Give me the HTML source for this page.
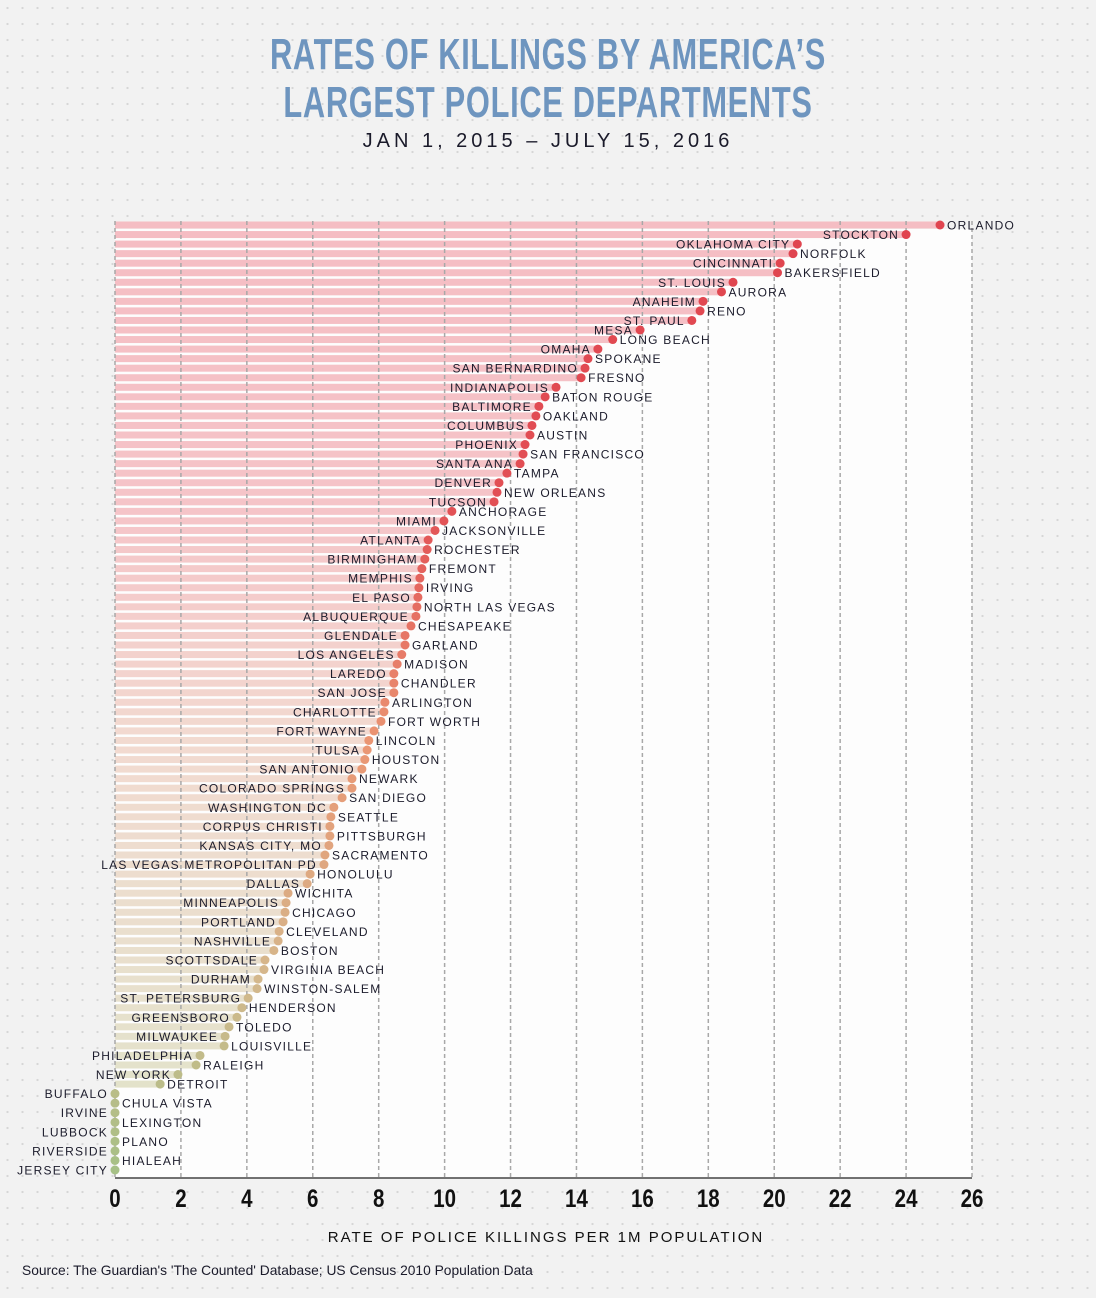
<!DOCTYPE html>
<html><head><meta charset="utf-8"><style>
body{margin:0;background:#f2f2f2;}
#wrap{position:relative;width:1096px;height:1298px;overflow:hidden;background-color:#f2f2f2;background-image:radial-gradient(circle,#d6d6d6 1px,transparent 1.3px);background-size:15px 16px;font-family:"Liberation Sans",sans-serif;}
.title{position:absolute;left:0;width:1096px;text-align:center;color:#6e95bf;font-weight:bold;font-size:44px;letter-spacing:1px;transform:scaleX(0.70);transform-origin:548px 0;}
</style></head><body>
<div id="wrap">
<div class="title" style="top:30px">RATES OF KILLINGS BY AMERICA’S</div>
<div class="title" style="top:78px">LARGEST POLICE DEPARTMENTS</div>
<div style="position:absolute;top:130px;left:0;width:1096px;text-align:center;font-size:20px;letter-spacing:4px;color:#1a1a2a">JAN 1, 2015 – JULY 15, 2016</div>
<svg id="chart" width="1096" height="1298" style="position:absolute;left:0;top:0"></svg>
<div style="position:absolute;top:1263px;left:22px;font-size:13.8px;color:#1a1a2a">Source: The Guardian's 'The Counted' Database; US Census 2010 Population Data</div>
</div>
<script>
const cities=["ORLANDO","STOCKTON","OKLAHOMA CITY","NORFOLK","CINCINNATI","BAKERSFIELD","ST. LOUIS","AURORA","ANAHEIM","RENO","ST. PAUL","MESA","LONG BEACH","OMAHA","SPOKANE","SAN BERNARDINO","FRESNO","INDIANAPOLIS","BATON ROUGE","BALTIMORE","OAKLAND","COLUMBUS","AUSTIN","PHOENIX","SAN FRANCISCO","SANTA ANA","TAMPA","DENVER","NEW ORLEANS","TUCSON","ANCHORAGE","MIAMI","JACKSONVILLE","ATLANTA","ROCHESTER","BIRMINGHAM","FREMONT","MEMPHIS","IRVING","EL PASO","NORTH LAS VEGAS","ALBUQUERQUE","CHESAPEAKE","GLENDALE","GARLAND","LOS ANGELES","MADISON","LAREDO","CHANDLER","SAN JOSE","ARLINGTON","CHARLOTTE","FORT WORTH","FORT WAYNE","LINCOLN","TULSA","HOUSTON","SAN ANTONIO","NEWARK","COLORADO SPRINGS","SAN DIEGO","WASHINGTON DC","SEATTLE","CORPUS CHRISTI","PITTSBURGH","KANSAS CITY, MO","SACRAMENTO","LAS VEGAS METROPOLITAN PD","HONOLULU","DALLAS","WICHITA","MINNEAPOLIS","CHICAGO","PORTLAND","CLEVELAND","NASHVILLE","BOSTON","SCOTTSDALE","VIRGINIA BEACH","DURHAM","WINSTON-SALEM","ST. PETERSBURG","HENDERSON","GREENSBORO","TOLEDO","MILWAUKEE","LOUISVILLE","PHILADELPHIA","RALEIGH","NEW YORK","DETROIT","BUFFALO","CHULA VISTA","IRVINE","LEXINGTON","LUBBOCK","PLANO","RIVERSIDE","HIALEAH","JERSEY CITY"];
const rates=[25.03,24.0,20.7,20.57,20.18,20.1,18.75,18.4,17.84,17.75,17.5,15.93,15.1,14.65,14.35,14.26,14.14,13.38,13.05,12.86,12.77,12.65,12.59,12.44,12.38,12.29,11.89,11.65,11.59,11.5,10.22,9.98,9.71,9.5,9.47,9.4,9.31,9.25,9.22,9.19,9.16,9.13,8.98,8.8,8.8,8.7,8.56,8.46,8.46,8.46,8.19,8.16,8.07,7.86,7.7,7.65,7.58,7.49,7.19,7.19,6.89,6.64,6.55,6.52,6.52,6.49,6.37,6.34,5.92,5.83,5.25,5.19,5.16,5.1,4.98,4.95,4.82,4.55,4.52,4.34,4.31,4.04,3.85,3.7,3.46,3.34,3.31,2.58,2.46,1.91,1.37,0,0,0,0,0,0,0,0,0];
const ticks=[0,2,4,6,8,10,12,14,16,18,20,22,24,26];
const X0=115,X1=972,XMAX=26,Y0=225,Y1=1170;
const xs=v=>X0+(X1-X0)*v/XMAX;
const ys=i=>Y0+(Y1-Y0)*i/(cities.length-1);
const NS="http://www.w3.org/2000/svg";
const svg=document.getElementById('chart');
function mk(t,a){const e=document.createElementNS(NS,t);for(const k in a)e.setAttribute(k,a[k]);svg.appendChild(e);return e;}
function lerp(a,b,t){return a.map((v,i)=>Math.round(v+(b[i]-v)*t));}
function grad(stops,t){for(let i=0;i<stops.length-1;i++){if(t<=stops[i+1][0]){const u=(t-stops[i][0])/(stops[i+1][0]-stops[i][0]);return 'rgb('+lerp(stops[i][1],stops[i+1][1],u).join(',')+')';}}return 'rgb('+stops[stops.length-1][1].join(',')+')';}
const dotStops=[[0,[224,68,79]],[0.3,[226,80,85]],[0.55,[234,150,115]],[0.8,[212,184,140]],[1,[166,192,134]]];
const barStops=[[0,[245,189,195]],[0.3,[245,196,200]],[0.55,[242,218,208]],[0.8,[232,224,205]],[1,[222,228,200]]];
const bg=mk('rect',{x:X0,y:Y0+4,width:X1-X0,height:1178-Y0-4,fill:'#fdfdfd'});


const N=cities.length;
cities.forEach((c,i)=>{
  const y=ys(i),t=i/(N-1);
  const bar=mk('rect',{x:X0,y:y-3.5,width:xs(rates[i])-X0,height:7,fill:grad(barStops,t)});
  
  
});
ticks.forEach(v=>{
  const g=mk('line',{x1:xs(v),x2:xs(v),y1:Y0-4,y2:1178,stroke:'#a8a8a8','stroke-width':1.5,'stroke-dasharray':'4,3'});
  
  
  const tl=mk('text',{x:xs(v),y:1207,'text-anchor':'middle','font-size':25,'font-weight':'bold',fill:'#111','font-family':'Liberation Sans Narrow, Liberation Sans, sans-serif',transform:'translate('+xs(v)+',0) scale(0.82,1) translate('+(-xs(v))+',0)'});
  tl.textContent=v;
  
  
});
const ax=mk('line',{x1:X0,x2:X1,y1:1178,y2:1178,stroke:'#444','stroke-width':1.5});


cities.forEach((c,i)=>{
  const y=ys(i),t=i/(N-1),x=xs(rates[i]);
  const d=mk('circle',{cx:x,cy:y,r:4.5,fill:grad(dotStops,t)});
  
  
  let right;
  if(i===0)right=true;
  else if(i===1||i===11)right=false;
  else if(i<11)right=(i%2===1);
  else right=(i%2===0);
  const lb=mk('text',{x:right?x+7:x-7,y:y+4.5,'text-anchor':right?'start':'end','font-size':12,'letter-spacing':1.25,fill:'#1b1b2b'});
  lb.textContent=c;
  
  
});
const at=mk('text',{x:546,y:1242,'text-anchor':'middle','font-size':15,'letter-spacing':2,fill:'#111'});
at.textContent='RATE OF POLICE KILLINGS PER 1M POPULATION';


</script>
</body></html>
